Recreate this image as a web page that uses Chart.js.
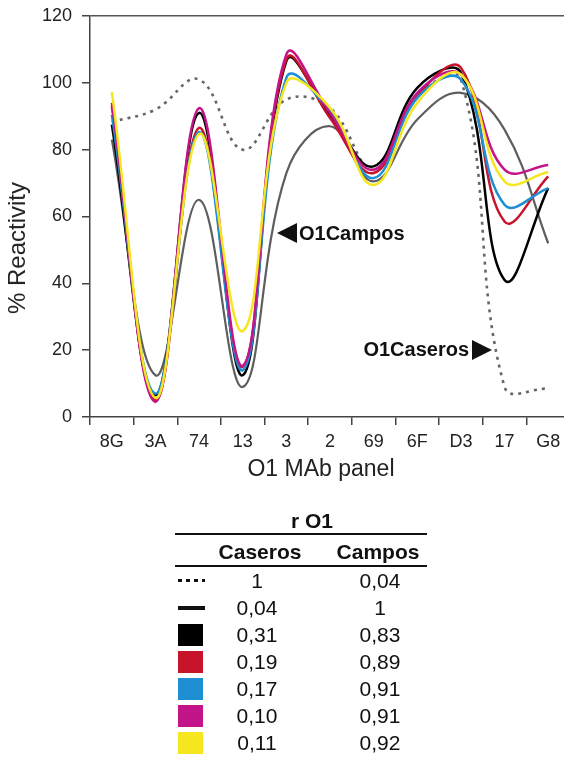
<!DOCTYPE html>
<html>
<head>
<meta charset="utf-8">
<script src="https://cdn.jsdelivr.net/npm/chart.js@4.4.1/dist/chart.umd.min.js"></script>
<style>
  html, body { margin:0; padding:0; background:#fff; width:564px; height:760px; overflow:hidden;
    font-family: Arial, "Liberation Sans", Helvetica, sans-serif; color:#111; }
  #wrap { position:absolute; left:0; top:0; width:580px; height:490px; }
  .abs { position:absolute; white-space:nowrap; transform:translate(-50%,-50%); }
</style>
</head>
<body>
<div id="wrap"><canvas id="chart" width="580" height="490"></canvas></div>
<div class="abs" style="left:321px; top:468px; font-size:23px; color:#222;">O1 MAb panel</div>
<div class="abs" style="left:17px; top:248px; font-size:24px; color:#222; transform:translate(-50%,-50%) rotate(-90deg);">% Reactivity</div>
<div id="table"></div>
<script>
// MAb panel and reactivity (%)
const labels = ['8G', '3A', '74', '13', '3', '2', '69', '6F', 'D3', '17', 'G8'];
const caserosO1   = [88.3, 92, 101, 80, 95, 92.5, 74, 96, 101, 9, 8.5];
const camposO1    = [83, 12.5, 65, 9, 73, 87, 70.5, 89, 97, 86, 52];
const blackVals   = [87.5, 6.5, 91, 12.5, 106.5, 90.5, 75, 98.5, 103, 41, 68.5];
const redVals     = [93, 5, 86.5, 15, 107, 89.5, 73, 96, 104.5, 58.5, 72];
const blueVals    = [90.4, 7, 85.3, 14, 101.5, 91.5, 71.5, 95.5, 101, 63.5, 68.5];
const magentaVals = [94, 4.5, 92.4, 15.3, 108.5, 91, 74, 97, 102.5, 74, 75.4];
const yellowVals  = [97.2, 5.7, 84.7, 25.7, 100, 92.5, 69.4, 94, 102.5, 70.5, 73.3];
const yTicks = [0, 20, 40, 60, 80, 100, 120];

// correlation table
const rCaseros = ['1', '0,04', '0,31', '0,19', '0,17', '0,10', '0,11'];
const rCampos  = ['0,04', '1', '0,83', '0,89', '0,91', '0,91', '0,92'];

const BLACK = '#000000', RED = '#c8142a', BLUE = '#1e8fd2', MAGENTA = '#c3158a', YELLOW = '#f6e620', GREY = '#5e5e5e';
const symbols = ['dots', 'line', BLACK, RED, BLUE, MAGENTA, YELLOW];

function line(label, data, color, extra) {
  return Object.assign({
    label, data, borderColor: color, borderWidth: 2.5, pointRadius: 0,
    tension: 0.4, fill: false
  }, extra || {});
}

// labels next to the reference curves
const notes = {
  id: 'notes',
  afterDatasetsDraw(chart) {
    const c = chart.ctx;
    c.save();
    c.fillStyle = '#111';
    c.font = 'bold 20px Arial, "Liberation Sans", sans-serif';
    c.textBaseline = 'middle';
    c.beginPath(); c.moveTo(277, 233); c.lineTo(297, 223); c.lineTo(297, 243); c.closePath(); c.fill();
    c.textAlign = 'left';
    c.fillText('O1Campos', 299, 234);
    c.textAlign = 'right';
    c.fillText('O1Caseros', 469, 350);
    c.beginPath(); c.moveTo(472, 340); c.lineTo(472, 360); c.lineTo(492, 350); c.closePath(); c.fill();
    c.restore();
  }
};

const ctx = document.getElementById('chart').getContext('2d');
new Chart(ctx, {
  type: 'line',
  data: {
    labels: labels,
    datasets: [
      line('0,11', yellowVals, YELLOW),
      line('0,10', magentaVals, MAGENTA),
      line('0,17', blueVals, BLUE),
      line('0,19', redVals, RED),
      line('0,31', blackVals, BLACK),
      line('O1Campos', camposO1, GREY, { borderWidth: 2.2 }),
      line('O1Caseros', caserosO1, '#666', { borderDash: [3, 5], borderWidth: 2.6 })
    ]
  },
  options: {
    responsive: false,
    animation: false,
    devicePixelRatio: 1,
    layout: { padding: { top: 16, right: 10, left: 0, bottom: 0 } },
    plugins: { legend: { display: false }, tooltip: { enabled: false } },
    scales: {
      x: {
        type: 'category',
        offset: true,
        grid: { color: 'rgba(0,0,0,0)', tickColor: '#444', tickLength: 8, offset: true, lineWidth: 1.5 },
        border: { color: '#444', width: 1.5 },
        ticks: { color: '#222', font: { size: 18, family: 'Arial, "Liberation Sans", sans-serif' }, padding: 6, maxRotation: 0, autoSkip: false },
        afterFit: (s) => { s.height = 73; s.paddingLeft = 0; s.paddingRight = 0; }
      },
      y: {
        min: 0,
        max: 120,
        afterBuildTicks: (s) => { s.ticks = yTicks.map(v => ({ value: v })); },
        grid: {
          color: (c) => (c.tick && c.tick.value === 120 ? '#555' : 'rgba(0,0,0,0)'),
          tickColor: '#444', tickLength: 8, lineWidth: 1.5
        },
        border: { color: '#444', width: 1.5 },
        ticks: { color: '#222', font: { size: 18, family: 'Arial, "Liberation Sans", sans-serif' }, padding: 10 },
        afterFit: (s) => { s.width = 90; s.paddingTop = 0; s.paddingBottom = 0; }
      }
    }
  },
  plugins: [notes]
});

// table under the chart
const tbl = document.getElementById('table');
function put(html, style) {
  const d = document.createElement('div');
  d.innerHTML = html;
  d.setAttribute('style', style);
  tbl.appendChild(d);
  return d;
}
put('r O1', 'position:absolute;left:312px;top:521px;transform:translate(-50%,-50%);font-weight:bold;font-size:21px;');
put('', 'position:absolute;left:175px;top:533px;width:252px;height:2px;background:#111;');
put('Caseros', 'position:absolute;left:260px;top:552px;transform:translate(-50%,-50%);font-weight:bold;font-size:21px;');
put('Campos', 'position:absolute;left:378px;top:552px;transform:translate(-50%,-50%);font-weight:bold;font-size:21px;');
put('', 'position:absolute;left:175px;top:565px;width:252px;height:2px;background:#111;');
rCaseros.forEach((v, i) => {
  const y = 581 + i * 27;
  const s = symbols[i];
  if (s === 'dots') {
    put('', `position:absolute;left:178px;top:${y - 2}px;width:27px;height:3px;background:repeating-linear-gradient(90deg,#111 0 4px,transparent 4px 8px);`);
  } else if (s === 'line') {
    put('', `position:absolute;left:178px;top:${y - 2}px;width:27px;height:4px;background:#111;`);
  } else {
    put('', `position:absolute;left:178px;top:${y - 11}px;width:25px;height:22px;background:${s};`);
  }
  put(v, `position:absolute;left:257px;top:${y}px;transform:translate(-50%,-50%);font-size:21px;`);
  put(rCampos[i], `position:absolute;left:380px;top:${y}px;transform:translate(-50%,-50%);font-size:21px;`);
});
</script>
</body>
</html>
